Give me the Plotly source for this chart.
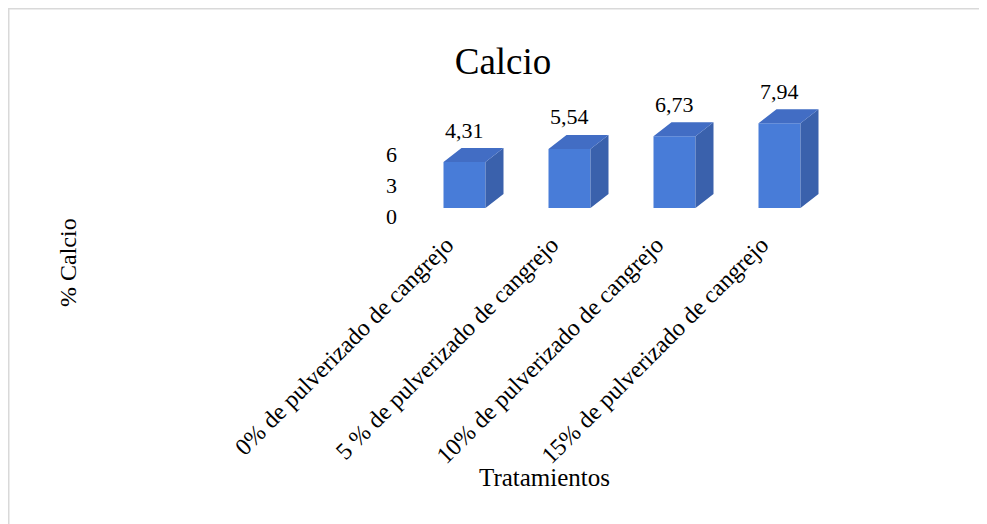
import plotly.graph_objects as go

categories = ["0% de pulverizado de cangrejo", "5 % de pulverizado de cangrejo",
              "10% de pulverizado de cangrejo", "15% de pulverizado de cangrejo"]
values = [4.31, 5.54, 6.73, 7.94]
y_ticks = [0, 3, 6]
title_text = "Calcio"
x_title = "Tratamientos"
y_title = "% Calcio"

FONT = "Liberation Serif, Times New Roman, serif"
FRONT = "#487CD8"
TOP = "#426DC4"
SIDE = "#3A61AC"
BORDER = "#D9D9D9"

OFF = 8  # page body margin
W, H = 987 - OFF, 524 - OFF
plot_w, plot_h = 420, 115
L = 412 - OFF
T = 101 - OFF
R = W - L - plot_w
B = H - T - plot_h
px_per_unit = 10.67
y_min = -8 / px_per_unit
y_max = y_min + plot_h / px_per_unit
tick_px_per_unit = 10.25
y2_max = plot_h / tick_px_per_unit

bar_w = 0.4
depth_x = 18 / (plot_w / 4)
depth_y = 14 / px_per_unit


def sx(px):
    return (px - OFF - L) / plot_w


def sy(py):
    return (T + plot_h - (py - OFF)) / plot_h


idx = list(range(len(categories)))

fig = go.Figure()
fig.add_trace(go.Bar(x=idx, y=values, width=bar_w, marker=dict(color=FRONT, line=dict(width=0)),
                     hoverinfo="skip"))

top_x, top_y, side_x, side_y = [], [], [], []
for i, v in zip(idx, values):
    x0, x1 = i - bar_w / 2, i + bar_w / 2
    top_x += [x0, x1, x1 + depth_x, x0 + depth_x, x0, None]
    top_y += [v, v, v + depth_y, v + depth_y, v, None]
    side_x += [x1, x1 + depth_x, x1 + depth_x, x1, x1, None]
    side_y += [0, depth_y, v + depth_y, v, 0, None]

fig.add_trace(go.Scatter(x=side_x, y=side_y, mode="lines", fill="toself", fillcolor=SIDE,
                         line=dict(width=0, color=SIDE), hoverinfo="skip"))
fig.add_trace(go.Scatter(x=top_x, y=top_y, mode="lines", fill="toself", fillcolor=TOP,
                         line=dict(width=0, color=TOP), hoverinfo="skip"))
# empty trace so that the tick axis (y2) is drawn
fig.add_trace(go.Scatter(x=[], y=[], yaxis="y2", mode="markers", hoverinfo="skip"))

annotations = []
for i, v in zip(idx, values):
    annotations.append(dict(x=i, y=v, xref="x", yref="y", yshift=32, showarrow=False,
                            xanchor="center", yanchor="middle",
                            text=f"{v:.2f}".replace(".", ","),
                            font=dict(family=FONT, size=22, color="black")))

annotations.append(dict(x=sx(544), y=sy(477), xref="paper", yref="paper",
                        xanchor="center", yanchor="middle",
                        text=x_title, showarrow=False, font=dict(family=FONT, size=25, color="black")))
annotations.append(dict(x=sx(68), y=sy(263), xref="paper", yref="paper",
                        xanchor="center", yanchor="middle",
                        text=y_title, textangle=-90, showarrow=False,
                        font=dict(family=FONT, size=24, color="black")))

fig.update_layout(
    width=W, height=H,
    margin=dict(l=L, r=R, t=T, b=B, autoexpand=False),
    paper_bgcolor="white", plot_bgcolor="white",
    showlegend=False,
    font=dict(family=FONT, color="black"),
    title=dict(text=title_text, x=(503 - OFF) / W, xanchor="center", y=1 - (61 - OFF) / H,
               yanchor="middle", yref="container",
               font=dict(family=FONT, size=37, color="black")),
    xaxis=dict(range=[-0.5, 3.5], tickvals=idx, ticktext=categories, tickangle=-45,
               showgrid=False, zeroline=False, showline=False, ticks="",
               ticklabelshift=-18, ticklabelstandoff=9,
               tickfont=dict(family=FONT, size=24, color="black"), automargin=False),
    yaxis=dict(range=[y_min, y_max], showticklabels=False, showgrid=False, zeroline=False,
               showline=False, ticks="", automargin=False),
    yaxis2=dict(range=[0, y2_max], overlaying="y", side="left", anchor="x", tickvals=y_ticks,
                showgrid=False, zeroline=False, showline=False, ticks="", ticklabelstandoff=14,
                tickfont=dict(family=FONT, size=22, color="black"), automargin=False),
    annotations=annotations,
    shapes=[
        dict(type="line", xref="paper", yref="paper",
             x0=sx(OFF), x1=sx(W + 2 * OFF + 5),
             y0=sy(OFF + 0.75), y1=sy(OFF + 0.75),
             line=dict(color=BORDER, width=1.5)),
        dict(type="line", xref="paper", yref="paper",
             x0=sx(OFF + 0.75), x1=sx(OFF + 0.75),
             y0=sy(OFF), y1=sy(H + 2 * OFF + 5),
             line=dict(color=BORDER, width=1.5)),
    ],
)

fig.write_html("out.html")
